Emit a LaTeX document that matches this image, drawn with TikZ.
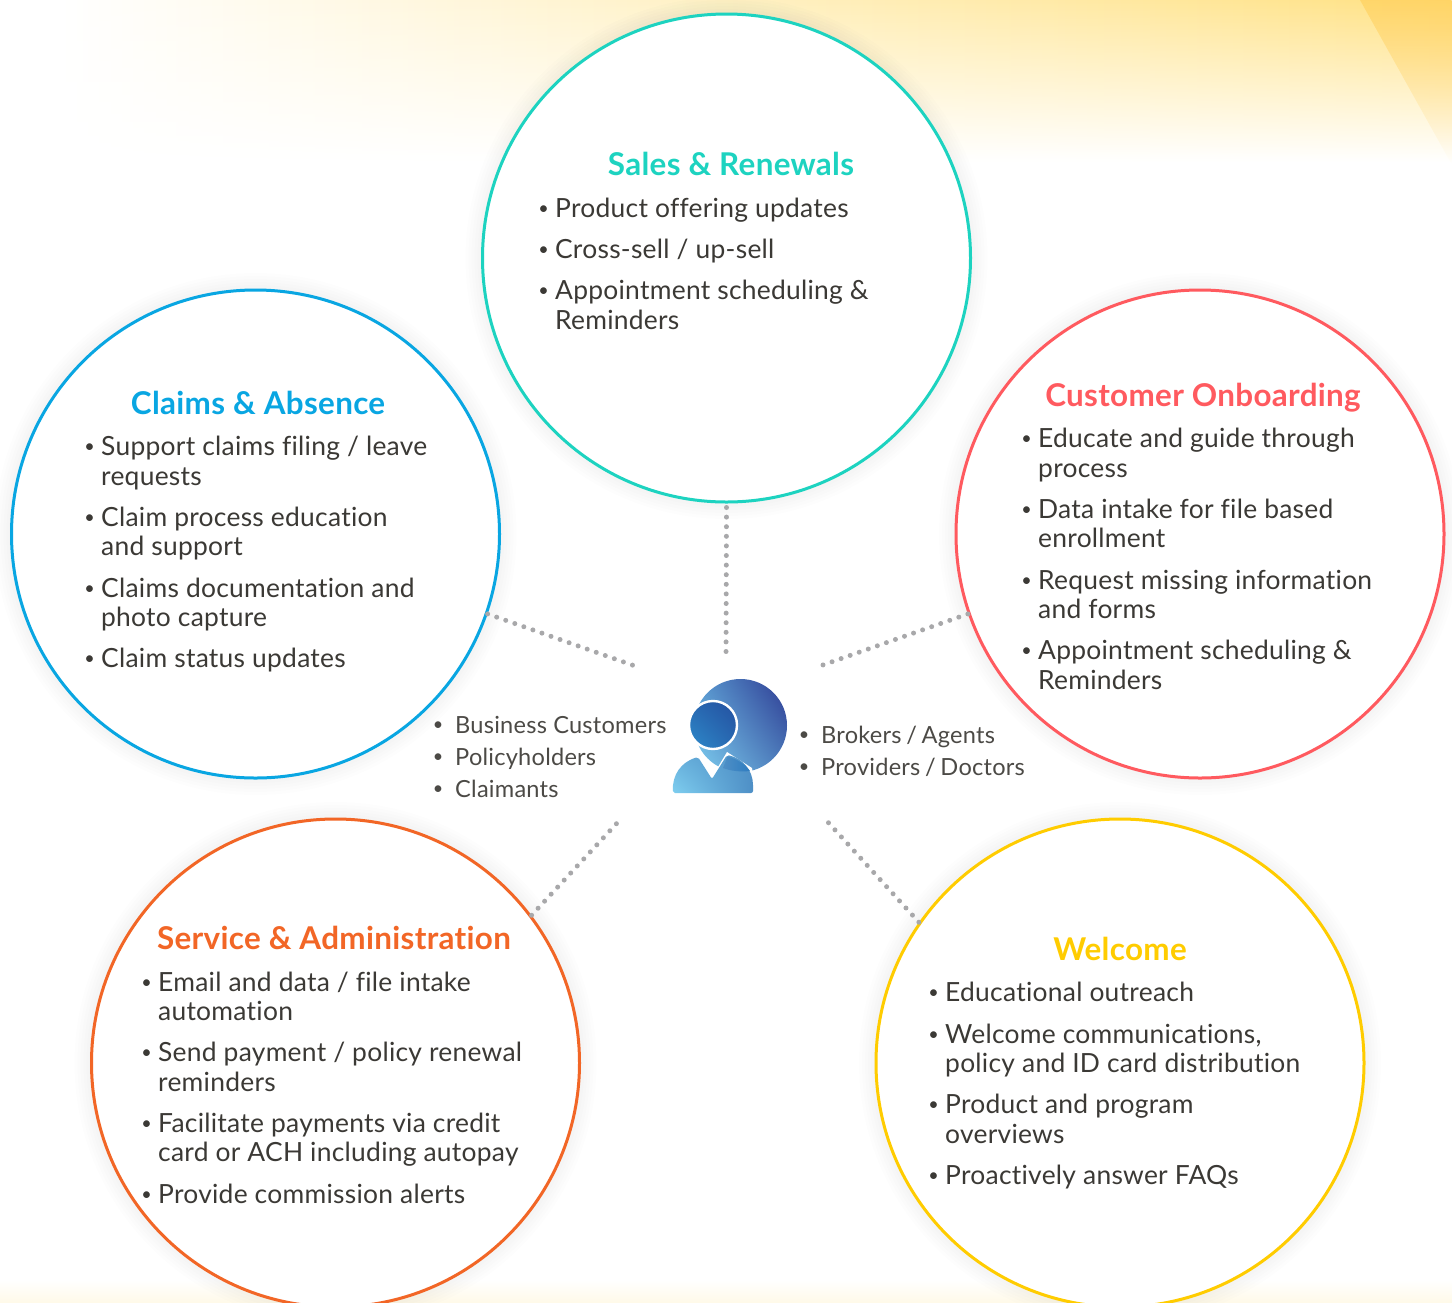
\documentclass[tikz,border=0pt]{standalone}
\usepackage{fontspec}
\setmainfont{Lato}[Ligatures=NoCommon,LetterSpace=1]
\usetikzlibrary{fadings,shadings}
\definecolor{salesc}{HTML}{1DD3C0}
\definecolor{claimsc}{HTML}{09A6E2}
\definecolor{custc}{HTML}{FF5A5F}
\definecolor{servc}{HTML}{F26626}
\definecolor{welc}{HTML}{FFCC00}
\definecolor{txt}{HTML}{3B3935}
\definecolor{txtb}{HTML}{4C4A46}
\definecolor{dotc}{HTML}{A8A8AA}
\definecolor{bandc}{HTML}{FFE183}
\definecolor{bandm}{HTML}{FFEBB0}
\definecolor{cornerc}{HTML}{FFC94A}
\definecolor{lightb}{HTML}{7FCFF0}
\definecolor{midb}{HTML}{4E8FC6}
\definecolor{midc}{HTML}{5A9CD2}
\definecolor{midd}{HTML}{4C7CBB}
\definecolor{darkb}{HTML}{2E3A92}
\definecolor{headl}{HTML}{2E8CCB}
\definecolor{headd}{HTML}{2450A0}
\tikzfading[name=bandfade, top color=transparent!0, bottom color=transparent!100]
\tikzset{
  ring/.style={circle,draw=#1,line width=3pt,fill=white,minimum size=488pt,inner sep=0pt},
  title/.style={anchor=base,inner sep=0pt,font=\fontsize{31.4}{34}\selectfont\bfseries,text=#1},
  itemtext/.style={anchor=base west,inner sep=0pt,align=left,text=txt,font=\fontsize{26.4}{29.5}\selectfont},
  smalltext/.style={anchor=base west,inner sep=0pt,text=txtb,font=\fontsize{23.6}{27}\selectfont},
  dots/.style={draw=dotc,line width=5pt,line cap=round,dash pattern=on 0pt off 9.6pt},
  halo/.style={circle,fill=black,opacity=0.008,inner sep=0pt,minimum size=#1},
}
\newcommand{\bul}[1]{\llap{\raisebox{3pt}{\fontsize{18}{18}\selectfont•}\hspace{#1}}}
\newcommand{\haloat}[1]{\foreach \d in {492,498,504,510,516,522}{\node[halo=\d pt] at (#1) {};}}
\newcommand{\tsl}{\hspace{-1.6pt} / \hspace{-1.6pt}}
\begin{document}
\begin{tikzpicture}[x=1pt,y=-1pt]
\useasboundingbox (0,0) rectangle (1452,1302);
\clip (0,0) rectangle (1452,1302);
% background bands
\shade[path fading=bandfade,left color=white,middle color=bandm,right color=bandc] (60,0) rectangle (1452,162);
\fill[cornerc,fill opacity=0.5,path fading=bandfade] (1360,0) -- (1452,0) -- (1452,165) -- cycle;
\shade[top color=white,bottom color=bandc!18] (0,1280) rectangle (1452,1302);
% shadows
\haloat{726.5,258}\haloat{255.5,534}\haloat{1200,534}\haloat{335.5,1063}\haloat{1120,1063}
% circles
\node[ring=salesc] (sales) at (726.5,258) {};
\node[ring=claimsc] (claims) at (255.5,534) {};
\node[ring=custc] (cust) at (1200,534) {};
\node[ring=servc] (serv) at (335.5,1063) {};
\node[ring=welc] (wel) at (1120,1063) {};
% connector free ends
\coordinate (e1) at (726,660);
\coordinate (e2) at (635,666);
\coordinate (e3) at (820,666);
\coordinate (e4) at (618,822);
\coordinate (e5) at (826,820);
\draw[dots] (sales.south) ++(0,4) -- (e1);
\draw[dots] (claims.-19) -- (e2);
\draw[dots] (cust.199) -- (e3);
\draw[dots] (serv.37) -- (e4);
\draw[dots] (wel.145) -- (e5);
% person icon
\shade[lower left=lightb,upper right=darkb,lower right=midd,upper left=midc] (740.5,725.5) circle (46.5);
\shadedraw[lower left=headl,upper right=headd,lower right=headd!60!headl,upper left=headd!60!headl,draw=white,line width=2.4pt] (713,725) circle (24);
\fill[white] (695,754) -- (712,777) -- (727,752) -- (752,768) -- (757,800) -- (668,800) -- (668,770) -- cycle;
\shade[lower left=lightb,upper right=midb,lower right=midb,upper left=lightb!50!midb,rounded corners=2pt]
  (673,793) .. controls (672,775) and (681,762) .. (698,757) -- (712,779) -- (727,755) .. controls (742,758) and (753,770) .. (753,787) -- (753,793) -- cycle;
\shade[left color=midb,right color=headl!80!darkb] (723,768) -- (727.5,756.5) .. controls (737,759) and (745,764) .. (750,771) .. controls (740,772) and (731,771) .. (723,768) -- cycle;
% titles
\node[title=salesc] (t1) at (731,175) {Sales \& Renewals};
\node[title=claimsc] (t2) at (258,414) {Claims \& Absence};
\node[title=custc] (t3) at (1203,406) {Customer Onboarding};
\node[title=servc] (t4) at (334,949) {Service \& Administration};
\node[title=welc] (t5) at (1120,960) {Welcome};
% sales items
\node[itemtext] (s1) at (555,217) {\bul{6.5pt}Product offering updates};
\node[itemtext] (s2) at (555,258) {\bul{6.5pt}Cross-sell / up-sell};
\node[itemtext] (s3) at (555,329) {\bul{6.5pt}Appointment scheduling \&\\Reminders};
% claims items
\node[itemtext] (c1) at (101,485) {\bul{6.5pt}Support claims filing / leave\\requests};
\node[itemtext] (c2) at (101,555.5) {\bul{6.5pt}Claim process education\\and support};
\node[itemtext] (c3) at (101,626.5) {\bul{6.5pt}Claims documentation and\\photo capture};
\node[itemtext] (c4) at (101,667) {\bul{6.5pt}Claim status updates};
% customer items
\node[itemtext] (o1) at (1038,477) {\bul{6.5pt}Educate and guide through\\process};
\node[itemtext] (o2) at (1038,547.5) {\bul{6.5pt}Data intake for file based\\enrollment};
\node[itemtext] (o3) at (1038,618.5) {\bul{6.5pt}Request missing information\\and forms};
\node[itemtext] (o4) at (1038,689) {\bul{6.5pt}Appointment scheduling \&\\Reminders};
% service items
\node[itemtext] (v1) at (158,1020.5) {\bul{6.5pt}Email and data / file intake\\automation};
\node[itemtext] (v2) at (158,1091) {\bul{6.5pt}Send payment / policy renewal\\reminders};
\node[itemtext] (v3) at (158,1161.5) {\bul{6.5pt}Facilitate payments via credit\\card or ACH including autopay};
\node[itemtext] (v4) at (158,1203) {\bul{6.5pt}Provide commission alerts};
% welcome items
\node[itemtext] (w1) at (945,1001) {\bul{6.5pt}Educational outreach};
\node[itemtext] (w2) at (945,1072.5) {\bul{6.5pt}Welcome communications,\\policy and ID card distribution};
\node[itemtext] (w3) at (945,1143) {\bul{6.5pt}Product and program\\overviews};
\node[itemtext] (w4) at (945,1184) {\bul{6.5pt}Proactively answer FAQs};
% audience lists
\node[smalltext] (a1) at (455,733) {\bul{12pt}Business Customers};
\node[smalltext] (a2) at (455,765) {\bul{12pt}Policyholders};
\node[smalltext] (a3) at (455,797) {\bul{12pt}Claimants};
\node[smalltext] (b1) at (821,743) {\bul{12pt}Brokers\tsl Agents};
\node[smalltext] (b2) at (821,775) {\bul{12pt}Providers\tsl Doctors};
\end{tikzpicture}
\end{document}
